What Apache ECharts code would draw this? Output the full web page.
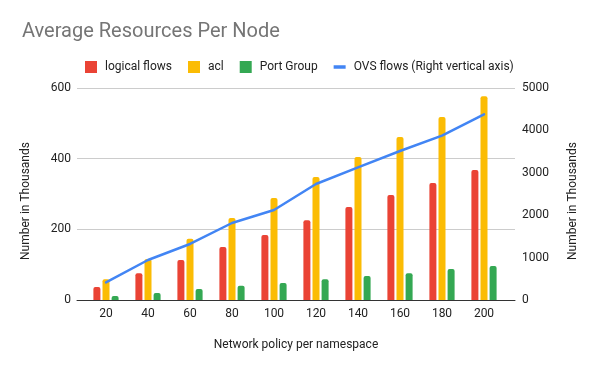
<!DOCTYPE html>
<html>
<head>
<meta charset="utf-8">
<script src="https://cdn.jsdelivr.net/npm/echarts@6/dist/echarts.min.js"></script>
<style>
  html, body { margin: 0; padding: 0; background: #fff; }
  #chart { width: 600px; height: 371px; }
</style>
</head>
<body>
<div id="chart"></div>
<script>
const categories = ['20', '40', '60', '80', '100', '120', '140', '160', '180', '200'];
const logicalFlows = [37, 76, 113, 150, 184, 226, 263, 297, 331, 368];
const acl = [59, 116, 173, 232, 289, 348, 405, 461, 518, 577];
const portGroup = [11, 20, 31, 40, 48, 59, 68, 76, 88, 96];
const ovsFlows = [417, 943, 1321, 1816, 2123, 2736, 3130, 3514, 3876, 4380];
const leftTicks = [0, 200, 400, 600];
const rightTicks = [0, 1000, 2000, 3000, 4000, 5000];

const FONT = 'Roboto, Arial, sans-serif';
const chart = echarts.init(document.getElementById('chart'), null, { renderer: 'canvas' });

const option = {
  backgroundColor: '#ffffff',
  animation: false,
  textStyle: { fontFamily: FONT },
  title: {
    text: 'Average Resources Per Node',
    left: 17,
    top: 17,
    textStyle: { fontFamily: FONT, fontSize: 20, fontWeight: 'normal', color: '#757575' }
  },
  legend: {
    left: 80,
    top: 56,
    itemWidth: 12,
    itemHeight: 12,
    itemGap: 16,
    symbolKeepAspect: true,
    textStyle: { fontFamily: FONT, fontSize: 12, color: '#222222', padding: [0, 0, 0, 3] },
    data: [
      { name: 'logical flows', icon: 'rect' },
      { name: 'acl', icon: 'rect' },
      { name: 'Port Group', icon: 'rect' },
      { name: 'OVS flows (Right vertical axis)', icon: 'path://M0 0H12V3.5H0Z', itemStyle: { color: '#4285f4' } }
    ]
  },
  grid: [
    { left: 77, right: 85, top: 88, bottom: 71 },
    { left: 85, right: 95, top: 88, bottom: 71 }
  ],
  xAxis: [
    {
      type: 'category',
      gridIndex: 0,
      data: categories,
      name: 'Network policy per namespace',
      nameLocation: 'middle',
      nameGap: 39,
      nameTextStyle: { fontFamily: FONT, fontSize: 12, color: '#222222' },
      axisLine: { show: true, lineStyle: { color: '#333333', width: 1 } },
      axisTick: { show: false },
      axisLabel: { show: false },
      splitLine: { show: false }
    },
    {
      type: 'category',
      gridIndex: 1,
      data: categories,
      axisLine: { show: false },
      axisTick: { show: false },
      axisLabel: { fontFamily: FONT, fontSize: 12, color: '#222222', margin: 8 },
      splitLine: { show: false }
    }
  ],
  yAxis: [
    {
      type: 'value',
      gridIndex: 0,
      position: 'left',
      min: leftTicks[0],
      max: leftTicks[leftTicks.length - 1],
      interval: leftTicks[1] - leftTicks[0],
      name: 'Number in Thousands',
      nameLocation: 'middle',
      nameRotate: 90,
      nameGap: 45,
      nameTextStyle: { fontFamily: FONT, fontSize: 12, color: '#222222', padding: [0, 14, 0, 0] },
      axisLine: { show: false },
      axisTick: { show: false },
      axisLabel: { fontFamily: FONT, fontSize: 12, color: '#222222', margin: 6 },
      splitLine: { show: true, lineStyle: { color: '#cccccc', width: 1 } }
    },
    {
      type: 'value',
      gridIndex: 0,
      position: 'right',
      min: rightTicks[0],
      max: rightTicks[rightTicks.length - 1],
      interval: rightTicks[1] - rightTicks[0],
      name: 'Number in Thousands',
      nameLocation: 'middle',
      nameRotate: 90,
      nameGap: 52,
      nameTextStyle: { fontFamily: FONT, fontSize: 12, color: '#222222', padding: [0, 14, 0, 0] },
      axisLine: { show: false },
      axisTick: { show: false },
      axisLabel: { fontFamily: FONT, fontSize: 12, color: '#222222', margin: 7, formatter: function (v) { return String(v); } },
      splitLine: { show: false }
    },
    {
      type: 'value',
      gridIndex: 1,
      min: leftTicks[0],
      max: leftTicks[leftTicks.length - 1],
      show: false
    },
    {
      type: 'value',
      gridIndex: 1,
      min: rightTicks[0],
      max: rightTicks[rightTicks.length - 1],
      show: false
    }
  ],
  series: [
    {
      name: 'logical flows',
      type: 'bar',
      xAxisIndex: 1,
      yAxisIndex: 2,
      data: logicalFlows,
      barWidth: 7,
      barGap: '30%',
      itemStyle: { color: '#ea4335', borderRadius: [2, 2, 0, 0] }
    },
    {
      name: 'acl',
      type: 'bar',
      xAxisIndex: 1,
      yAxisIndex: 2,
      data: acl,
      barWidth: 7,
      barGap: '30%',
      itemStyle: { color: '#fbbc04', borderRadius: [2, 2, 0, 0] }
    },
    {
      name: 'Port Group',
      type: 'bar',
      xAxisIndex: 1,
      yAxisIndex: 2,
      data: portGroup,
      barWidth: 7,
      barGap: '30%',
      itemStyle: { color: '#34a853', borderRadius: [2, 2, 0, 0] }
    },
    {
      name: 'OVS flows (Right vertical axis)',
      type: 'line',
      xAxisIndex: 1,
      yAxisIndex: 3,
      data: ovsFlows,
      symbol: 'none',
      lineStyle: { color: '#4285f4', width: 2.5, join: 'round', cap: 'round' },
      itemStyle: { color: '#4285f4' },
      z: 5
    }
  ]
};

chart.setOption(option);
</script>
</body>
</html>
